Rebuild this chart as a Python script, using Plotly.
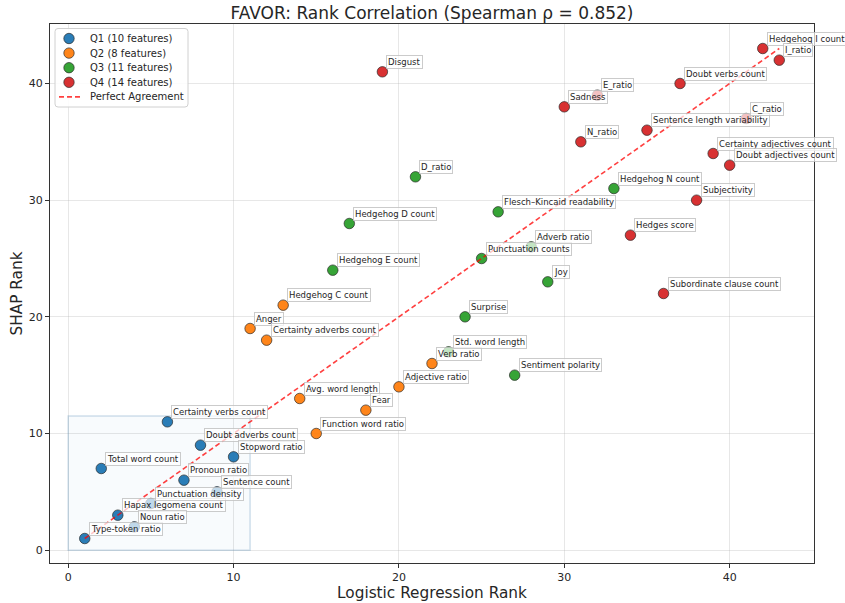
import plotly.graph_objects as go

# Feature ranks per quartile group: (name, logistic-regression rank, SHAP rank)
q1_features = ["Type-token ratio", "Total word count", "Hapax legomena count", "Noun ratio",
               "Punctuation density", "Certainty verbs count", "Pronoun ratio",
               "Doubt adverbs count", "Sentence count", "Stopword ratio"]
q1_lr = [1, 2, 3, 4, 5, 6, 7, 8, 9, 10]
q1_shap = [1, 7, 3, 2, 4, 11, 6, 9, 5, 8]

q2_features = ["Anger", "Certainty adverbs count", "Hedgehog C count", "Avg. word length",
               "Function word ratio", "Fear", "Adjective ratio", "Verb ratio"]
q2_lr = [11, 12, 13, 14, 15, 18, 20, 22]
q2_shap = [19, 18, 21, 13, 10, 12, 14, 16]

q3_features = ["Hedgehog E count", "Hedgehog D count", "D_ratio", "Std. word length", "Surprise",
               "Punctuation counts", "Flesch\u2013Kincaid readability", "Sentiment polarity",
               "Adverb ratio", "Joy", "Hedgehog N count"]
q3_lr = [16, 17, 21, 23, 24, 25, 26, 27, 28, 29, 33]
q3_shap = [24, 28, 32, 17, 20, 25, 29, 15, 26, 23, 31]

q4_features = ["Disgust", "Sadness", "N_ratio", "E_ratio", "Hedges score",
               "Sentence length variability", "Subordinate clause count", "Doubt verbs count",
               "Subjectivity", "Certainty adjectives count", "Doubt adjectives count", "C_ratio",
               "Hedgehog I count", "I_ratio"]
q4_lr = [19, 30, 31, 32, 34, 35, 36, 37, 38, 39, 40, 41, 42, 43]
q4_shap = [41, 38, 35, 39, 27, 36, 22, 40, 30, 34, 33, 37, 43, 42]

group_names = ["Q1", "Q2", "Q3", "Q4"]
group_colors = ["#1f77b4", "#ff7f0e", "#2ca02c", "#d62728"]
spearman_rho = 0.852

# Highlighted low-rank zone (x0, y0, x1, y1)
zone = (0, 0, 11, 11.5)

groups = [
    (q1_features, q1_lr, q1_shap),
    (q2_features, q2_lr, q2_shap),
    (q3_features, q3_lr, q3_shap),
    (q4_features, q4_lr, q4_shap),
]

FONT = "DejaVu Sans"
TEXT = "#262626"
EDGE = "rgba(30,30,30,0.85)"
DIAG = "rgba(255,0,0,0.75)"

W, H = 845, 603
M = dict(l=50, r=31, t=24, b=40)
PW, PH = W - M["l"] - M["r"], H - M["t"] - M["b"]


def px_x(p):
    """Page pixel column -> paper x."""
    return (p - M["l"]) / PW


def px_y(p):
    """Page pixel row -> paper y."""
    return (H - M["b"] - p) / PH


fig = go.Figure()
shapes = []
annotations = []

shapes.append(dict(type="rect", xref="x", yref="y",
                   x0=zone[0], y0=zone[1], x1=zone[2], y1=zone[3],
                   fillcolor="rgba(31,119,180,0.03)",
                   line=dict(color="rgba(70,130,180,0.25)", width=1.5),
                   layer="between"))

for (names, lr, shap), gname, color in zip(groups, group_names, group_colors):
    fig.add_trace(go.Scatter(
        x=lr, y=shap, mode="markers", showlegend=False,
        name=f"{gname} ({len(names)} features)",
        marker=dict(size=10.5, color=color, opacity=0.95, line=dict(color=EDGE, width=0.8)),
        text=names, hoverinfo="text+x+y",
    ))
    for n, xv, yv in zip(names, lr, shap):
        annotations.append(dict(
            x=xv, y=yv, xref="x", yref="y", text=n, showarrow=False,
            xanchor="left", yanchor="bottom", xshift=4, yshift=3,
            font=dict(family=FONT, size=8.5, color=TEXT),
            bgcolor="rgba(255,255,255,0.7)", bordercolor="rgba(190,190,190,0.8)",
            borderwidth=1, borderpad=1,
        ))

all_ranks = q1_lr + q2_lr + q3_lr + q4_lr
lo, hi = min(all_ranks), max(all_ranks)
fig.add_trace(go.Scatter(
    x=[lo, hi], y=[lo, hi], mode="lines", name="Perfect Agreement", showlegend=False,
    line=dict(color=DIAG, width=1.6, dash="5px,3px"), hoverinfo="skip",
))

# Legend box (drawn as shapes + text so the row spacing stays compact)
bx0, bx1, by0, by1, rr = 55, 188, 28.5, 107, 3
rx, ry = rr / PW, rr / PH
X0, X1, Y0, Y1 = px_x(bx0), px_x(bx1), px_y(by1), px_y(by0)
legend_path = (f"M {X0+rx},{Y0} L {X1-rx},{Y0} Q {X1},{Y0} {X1},{Y0+ry} "
               f"L {X1},{Y1-ry} Q {X1},{Y1} {X1-rx},{Y1} L {X0+rx},{Y1} "
               f"Q {X0},{Y1} {X0},{Y1-ry} L {X0},{Y0+ry} Q {X0},{Y0} {X0+rx},{Y0} Z")
shapes.append(dict(type="path", xref="paper", yref="paper", path=legend_path,
                   fillcolor="rgba(255,255,255,0.85)",
                   line=dict(color="#d0d0d0", width=1), layer="above"))

row0, row_step = 38.5, 14.6
legend_labels = [f"{g} ({len(grp[0])} features)" for g, grp in zip(group_names, groups)]
legend_labels.append("Perfect Agreement")
for i, label in enumerate(legend_labels):
    yc = row0 + i * row_step
    if i < len(group_colors):
        shapes.append(dict(type="circle", xref="paper", yref="paper",
                           xsizemode="pixel", ysizemode="pixel",
                           xanchor=px_x(69), yanchor=px_y(yc),
                           x0=-5.2, x1=5.2, y0=-5.2, y1=5.2,
                           fillcolor=group_colors[i], opacity=0.95,
                           line=dict(color=EDGE, width=0.8), layer="above"))
    else:
        shapes.append(dict(type="line", xref="paper", yref="paper",
                           x0=px_x(59), x1=px_x(80), y0=px_y(yc), y1=px_y(yc),
                           line=dict(color=DIAG, width=1.6, dash="5px,3px"),
                           layer="above"))
    annotations.append(dict(x=px_x(88), y=px_y(yc), xref="paper", yref="paper",
                            text=label, showarrow=False, xanchor="left", yanchor="middle",
                            font=dict(family=FONT, size=10, color=TEXT)))

axis_common = dict(
    range=[-1.1, 45.1], tickvals=[0, 10, 20, 30, 40], automargin=False,
    showgrid=True, gridcolor="rgba(176,176,176,0.3)", gridwidth=0.8,
    zeroline=False, showline=True, linecolor="#333333", linewidth=1, mirror=True,
    ticks="outside", ticklen=4, tickcolor="#333333", tickwidth=1,
    tickfont=dict(family=FONT, size=11, color=TEXT),
)

fig.update_layout(
    width=W, height=H,
    margin=M,
    paper_bgcolor="white", plot_bgcolor="white",
    font=dict(family=FONT, color=TEXT),
    title=dict(text=f"FAVOR: Rank Correlation (Spearman \u03c1 = {spearman_rho:.3f})",
               x=0.5, xref="paper", xanchor="center", y=0.978, yref="container",
               yanchor="middle", font=dict(family=FONT, size=17, color=TEXT)),
    xaxis=dict(axis_common, title=dict(text="Logistic Regression Rank", standoff=4,
                                       font=dict(family=FONT, size=15.3, color=TEXT))),
    yaxis=dict(axis_common, title=dict(text="SHAP Rank", standoff=2,
                                       font=dict(family=FONT, size=15.3, color=TEXT))),
    showlegend=False,
    shapes=shapes,
    annotations=annotations,
)

fig.write_html("out.html")
